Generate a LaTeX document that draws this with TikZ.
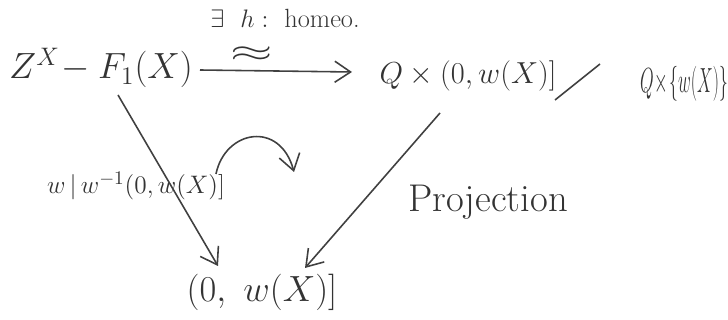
\documentclass[tikz,border=0pt]{standalone}
\usepackage{amssymb}
\usetikzlibrary{arrows.meta}
\begin{document}
\begin{tikzpicture}[x=0.02cm,y=-0.02cm,
  ink/.style={draw=black!75, line width=0.9pt},
  arr/.style={ink, -{Straight Barb[length=9pt,width=12pt]}},
  big/.style={inner sep=1pt, text=black!80, font=\fontsize{21}{23}\selectfont},
  mid/.style={inner sep=1pt, text=black!80, font=\fontsize{17}{19}\selectfont},
  lab/.style={inner sep=1pt, text=black!80, font=\fontsize{15}{17}\selectfont}]
\useasboundingbox (0,0) rectangle (728,320);
\node[big] (A) at (101,68) {$Z^X\!-F_1(X)$};
\node[mid] (B1) at (468,76) {$Q\times(0,w(X)]$};
\node[mid] (B2) at (684,84) {\scalebox{0.58}[1.15]{$Q\!\times\!\{w(X)\}$}};
\node[big] (C) at (262,292) {$(0,\ w(X)]$};
\coordinate (s1) at (555,100);
\coordinate (s2) at (600,64);
\draw[ink] (s1) -- (s2);
\node[lab, inner sep=0pt] (h) at (285,18) {$\exists\ \ h:\ $ homeo.};
\node[lab, inner sep=0pt, font=\fontsize{16}{18}\selectfont] (eq) at (252,54) {\scalebox{1.8}[1]{$\approx$}};
\coordinate (a1) at (200,70);
\coordinate (a2) at (352,72);
\draw[arr] (a1) -- (a2);
\node[lab] (L) at (136,186) {$w\,|\,w^{-1}(0,w(X)]$};
\node[lab, font=\fontsize{22}{24}\selectfont] (P) at (488,202) {Projection};
\coordinate (l1) at (118,95);
\coordinate (l2) at (218,266);
\draw[arr] (l1) -- (l2);
\coordinate (r1) at (440,113);
\coordinate (r2) at (305,268);
\draw[arr] (r1) -- (r2);
\coordinate (c1) at (216,174);
\coordinate (c2) at (294,172);
\draw[arr] (c1) .. controls (225,130) and (280,120) .. (c2);
\end{tikzpicture}
\end{document}
